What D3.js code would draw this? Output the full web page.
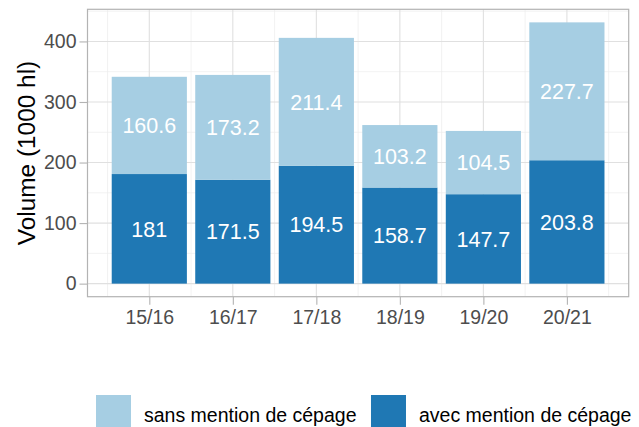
<!DOCTYPE html>
<html>
<head>
<meta charset="utf-8">
<script src="https://cdn.jsdelivr.net/npm/d3@7"></script>
<style>
  body { margin: 0; background: #fff; }
  text { font-family: "Liberation Sans", Arial, sans-serif; }
</style>
</head>
<body>
<div id="chart"></div>
<script>
// campaigns and volumes (1000 hl)
var campaigns = ["15/16", "16/17", "17/18", "18/19", "19/20", "20/21"];
var avecCepage = [181, 171.5, 194.5, 158.7, 147.7, 203.8];
var sansCepage = [160.6, 173.2, 211.4, 103.2, 104.5, 227.7];
var yTicks = [0, 100, 200, 300, 400];
var yMinor = [50, 150, 250, 350, 450];
var seriesNames = ["sans mention de cépage", "avec mention de cépage"];
var seriesColors = ["#A6CEE3", "#1F78B4"];

var W = 639, H = 427;
var panel = {left: 87.5, right: 628.7, top: 9.3, bottom: 296.7};

var svg = d3.select("#chart").append("svg")
  .attr("width", W)
  .attr("height", H);

// stacked data, dark series at the bottom
var stacked = campaigns.map(function(c, i) {
  return {cat: c, avec: avecCepage[i], sans: sansCepage[i], total: avecCepage[i] + sansCepage[i]};
});
var maxTotal = d3.max(stacked, function(d) { return d.total; });

var y = d3.scaleLinear()
  .domain([-0.05 * maxTotal, maxTotal * 1.05])
  .range([panel.bottom, panel.top]);

var x = d3.scalePoint()
  .domain(campaigns)
  .range([panel.left, panel.right])
  .padding(0.74);
var step = x.step();
var barW = step * 0.9;

// grid
var grid = svg.append("g");
grid.selectAll(".ymin").data(yMinor).enter().append("line")
  .attr("x1", panel.left).attr("x2", panel.right)
  .attr("y1", function(d) { return y(d); }).attr("y2", function(d) { return y(d); })
  .attr("stroke", "#EDEDED").attr("stroke-width", 0.7);
var xMinor = campaigns.map(function(c) { return x(c) - step / 2; });
xMinor.push(x(campaigns[campaigns.length - 1]) + step / 2);
grid.selectAll(".xmin").data(xMinor).enter().append("line")
  .attr("y1", panel.top).attr("y2", panel.bottom)
  .attr("x1", function(d) { return d; }).attr("x2", function(d) { return d; })
  .attr("stroke", "#EDEDED").attr("stroke-width", 0.7);
grid.selectAll(".ymaj").data(yTicks).enter().append("line")
  .attr("x1", panel.left).attr("x2", panel.right)
  .attr("y1", function(d) { return y(d); }).attr("y2", function(d) { return y(d); })
  .attr("stroke", "#E0E0E0").attr("stroke-width", 1.1);
grid.selectAll(".xmaj").data(campaigns).enter().append("line")
  .attr("y1", panel.top).attr("y2", panel.bottom)
  .attr("x1", function(d) { return x(d); }).attr("x2", function(d) { return x(d); })
  .attr("stroke", "#E0E0E0").attr("stroke-width", 1.1);

// bars
var bars = svg.append("g");
bars.selectAll(".avec").data(stacked).enter().append("rect")
  .attr("x", function(d) { return x(d.cat) - barW / 2; })
  .attr("width", barW)
  .attr("y", function(d) { return y(d.avec); })
  .attr("height", function(d) { return y(0) - y(d.avec); })
  .attr("fill", seriesColors[1]);
bars.selectAll(".sans").data(stacked).enter().append("rect")
  .attr("x", function(d) { return x(d.cat) - barW / 2; })
  .attr("width", barW)
  .attr("y", function(d) { return y(d.total); })
  .attr("height", function(d) { return y(d.avec) - y(d.total); })
  .attr("fill", seriesColors[0]);

// value labels in the middle of each segment
bars.selectAll(".lavec").data(stacked).enter().append("text")
  .attr("x", function(d) { return x(d.cat); })
  .attr("y", function(d) { return y(d.avec / 2); })
  .attr("dy", "0.36em")
  .attr("text-anchor", "middle")
  .attr("fill", "#fff")
  .style("font-size", "21.5px")
  .text(function(d) { return d.avec; });
bars.selectAll(".lsans").data(stacked).enter().append("text")
  .attr("x", function(d) { return x(d.cat); })
  .attr("y", function(d) { return y(d.avec + d.sans / 2); })
  .attr("dy", "0.36em")
  .attr("text-anchor", "middle")
  .attr("fill", "#fff")
  .style("font-size", "21.5px")
  .text(function(d) { return d.sans; });

// panel border
svg.append("rect")
  .attr("x", panel.left).attr("y", panel.top)
  .attr("width", panel.right - panel.left)
  .attr("height", panel.bottom - panel.top)
  .attr("fill", "none")
  .attr("stroke", "#B3B3B3")
  .attr("stroke-width", 1.2);

// axes
var yAxis = svg.append("g")
  .attr("transform", "translate(" + panel.left + ",0)")
  .call(d3.axisLeft(y).tickValues(yTicks).tickSize(8).tickPadding(3));
var xAxis = svg.append("g")
  .attr("transform", "translate(0," + panel.bottom + ")")
  .call(d3.axisBottom(x).tickSize(8).tickPadding(5));
[yAxis, xAxis].forEach(function(a) {
  a.select(".domain").remove();
  a.selectAll(".tick line").attr("stroke", "#B3B3B3").attr("stroke-width", 1.1);
  a.selectAll(".tick text")
    .attr("fill", "#4D4D4D")
    .style("font-size", "19.5px")
    .style("font-family", "'Liberation Sans', Arial, sans-serif");
});

// y axis title
svg.append("text")
  .attr("transform", "translate(35," + ((panel.top + panel.bottom) / 2) + ") rotate(-90)")
  .attr("text-anchor", "middle")
  .attr("fill", "#000")
  .style("font-size", "24.4px")
  .text("Volume (1000 hl)");

// legend
var legend = svg.append("g");
var keySize = 35, keyGap = 13, itemGap = 14.5;
var lx = 96, ly = 395;
seriesNames.forEach(function(name, i) {
  var g = legend.append("g").attr("transform", "translate(" + lx + "," + ly + ")");
  g.append("rect")
    .attr("width", keySize).attr("height", keySize)
    .attr("fill", seriesColors[i]);
  var t = g.append("text")
    .attr("x", keySize + keyGap)
    .attr("y", 27)
    .attr("fill", "#000")
    .style("font-size", "19.5px")
    .text(name);
  lx += keySize + keyGap + t.node().getComputedTextLength() + itemGap;
});
</script>
</body>
</html>
